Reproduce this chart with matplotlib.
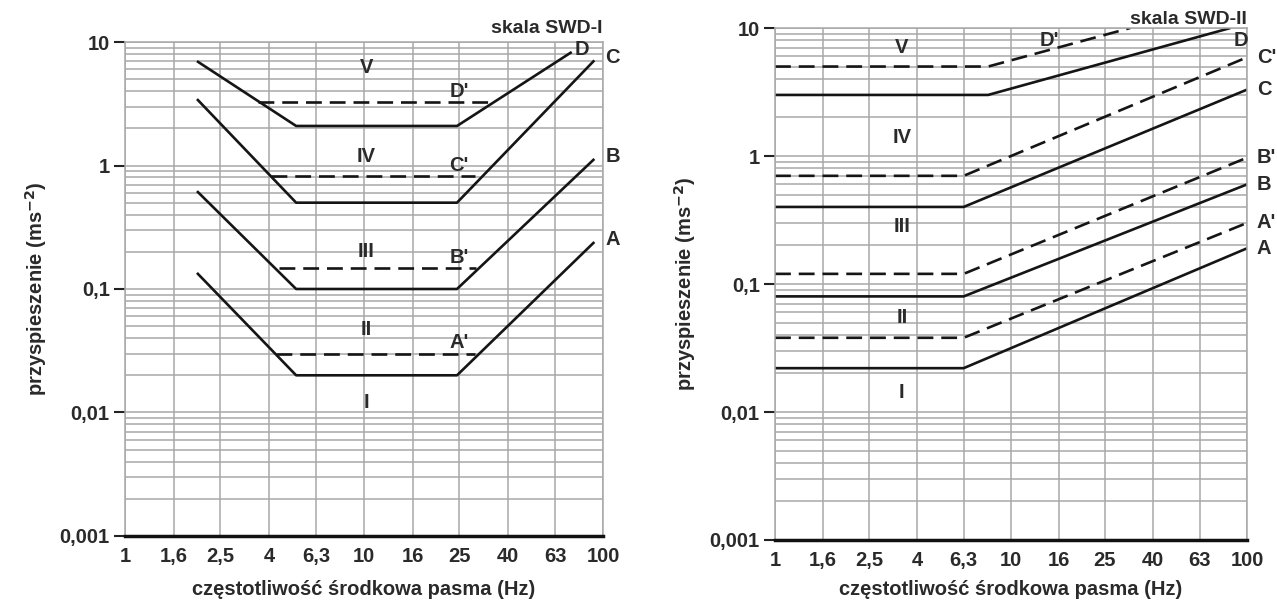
import numpy as np
import matplotlib.pyplot as plt
from matplotlib.ticker import FixedLocator, LogLocator, NullFormatter, NullLocator

plt.rcParams['font.family'] = ['Liberation Sans', 'DejaVu Sans']
plt.rcParams['font.weight'] = 'bold'
plt.rcParams['mathtext.default'] = 'bf'

TXT = '#2a2a2a'
GRID = '#a8a8a8'

# x ticks (third-octave band centres) and y ticks
x_ticks = [1, 1.6, 2.5, 4, 6.3, 10, 16, 25, 40, 63, 100]
x_labels = ['1', '1,6', '2,5', '4', '6,3', '10', '16', '25', '40', '63', '100']
y_ticks = [0.001, 0.01, 0.1, 1, 10]
y_labels = ['0,001', '0,01', '0,1', '1', '10']

# --- SWD-I (left) ---
swd1_f = [2, 5.2, 24.5, 92]
swd1_A = [0.135, 0.02, 0.02, 0.24]
swd1_B = [0.62, 0.1, 0.1, 1.13]
swd1_C = [3.45, 0.5, 0.5, 7.1]
swd1_D_f = [2, 5.2, 24.5, 74]
swd1_D = [7.0, 2.09, 2.09, 8.3]
swd1_A2_f = [4.3, 29]
swd1_A2 = [0.03, 0.03]
swd1_B2_f = [4.4, 29.5]
swd1_B2 = [0.148, 0.148]
swd1_C2_f = [4.1, 29]
swd1_C2 = [0.82, 0.82]
swd1_D2_f = [3.6, 35]
swd1_D2 = [3.25, 3.25]

# --- SWD-II (right) ---
swd2_f = [1, 6.3, 100]
swd2_A = [0.022, 0.022, 0.19]
swd2_A2 = [0.038, 0.038, 0.3]
swd2_B = [0.08, 0.08, 0.6]
swd2_B2 = [0.12, 0.12, 0.97]
swd2_C = [0.4, 0.4, 3.3]
swd2_C2 = [0.7, 0.7, 5.9]
swd2_D_f = [1, 8, 85]
swd2_D = [3, 3, 10]
swd2_D2_f = [1, 8, 32]
swd2_D2 = [5, 5, 10]

roman = ['V', 'IV', 'III', 'II', 'I']
roman1_y = [6.2, 1.19, 0.2, 0.0466, 0.012]
roman2_y = [7.0, 1.4, 0.28, 0.055, 0.0143]


def style_axes(ax, xpad):
    ax.set_xscale('log')
    ax.set_yscale('log')
    ax.set_xlim(1, 100)
    ax.set_ylim(0.001, 10)
    ax.xaxis.set_major_locator(FixedLocator(x_ticks))
    ax.set_xticklabels(x_labels)
    ax.xaxis.set_minor_locator(NullLocator())
    ax.set_yticks(y_ticks)
    ax.set_yticklabels(y_labels)
    ax.yaxis.set_minor_locator(LogLocator(base=10, subs=np.arange(2, 10)))
    ax.yaxis.set_minor_formatter(NullFormatter())
    ax.grid(True, which='major', color=GRID, lw=1.1)
    ax.grid(True, which='minor', axis='y', color=GRID, lw=1.1)
    ax.tick_params(axis='x', length=0, pad=8, labelsize=14.5, labelcolor=TXT)
    ax.tick_params(axis='y', which='major', length=8, width=1.5, pad=3,
                   labelsize=14.5, labelcolor=TXT, color='#222222')
    ax.tick_params(axis='y', which='minor', length=0)
    for s in ['left', 'top', 'right']:
        ax.spines[s].set_color(GRID)
        ax.spines[s].set_linewidth(1.1)
    ax.spines['bottom'].set_color('#111111')
    ax.spines['bottom'].set_linewidth(2.5)
    ax.set_axisbelow(True)
    ax.set_ylabel('przyspieszenie (ms$^{-2}$)', fontsize=14.5, fontweight='bold',
                  color=TXT, labelpad=8)
    ax.set_xlabel('częstotliwość środkowa pasma (Hz)', fontsize=14.5,
                  fontweight='bold', color=TXT, labelpad=xpad)


solid = dict(color='#151515', lw=1.9, solid_capstyle='butt')
dash = dict(color='#151515', lw=1.9, ls=(0, (6, 3)))
lab = dict(fontsize=14.5, color=TXT, fontweight='bold')

fig = plt.figure(figsize=(12.77, 6.01), dpi=100)
ax1 = fig.add_axes([0.0979, 0.1082, 0.3743, 0.8219])
ax2 = fig.add_axes([0.6069, 0.1015, 0.3696, 0.8519])

# left panel
style_axes(ax1, 10)
ax1.plot(swd1_f, swd1_A, **solid)
ax1.plot(swd1_f, swd1_B, **solid)
ax1.plot(swd1_f, swd1_C, **solid)
ax1.plot(swd1_D_f, swd1_D, **solid)
ax1.plot(swd1_A2_f, swd1_A2, **dash)
ax1.plot(swd1_B2_f, swd1_B2, **dash)
ax1.plot(swd1_C2_f, swd1_C2, **dash)
ax1.plot(swd1_D2_f, swd1_D2, **dash)
for r, y in zip(roman, roman1_y):
    ax1.text(10.2, y, r, ha='center', va='center', **lab)
ax1.text(25, 4.0, "D'", ha='center', va='center', **lab)
ax1.text(25, 1.0, "C'", ha='center', va='center', **lab)
ax1.text(25, 0.18, "B'", ha='center', va='center', **lab)
ax1.text(25, 0.037, "A'", ha='center', va='center', **lab)
ax1.annotate('D', (swd1_D_f[-1], swd1_D[-1]), xytext=(2, 2), textcoords='offset points',
             ha='left', va='center', annotation_clip=False, **lab)
for name, vals in [('C', swd1_C), ('B', swd1_B), ('A', swd1_A)]:
    ax1.annotate(name, (swd1_f[-1], vals[-1]), xytext=(8, 2), textcoords='offset points',
                 ha='left', va='center', annotation_clip=False, **lab)
ax1.text(1.0, 1.01, 'skala SWD-I', transform=ax1.transAxes, ha='right', va='bottom',
         fontsize=14, color=TXT)

# right panel
style_axes(ax2, 7)
ax2.plot(swd2_f, swd2_A, **solid)
ax2.plot(swd2_f, swd2_B, **solid)
ax2.plot(swd2_f, swd2_C, **solid)
ax2.plot(swd2_D_f, swd2_D, **solid)
ax2.plot(swd2_f, swd2_A2, **dash)
ax2.plot(swd2_f, swd2_B2, **dash)
ax2.plot(swd2_f, swd2_C2, **dash)
ax2.plot(swd2_D2_f, swd2_D2, **dash)
for r, y in zip(roman, roman2_y):
    ax2.text(3.45, y, r, ha='center', va='center', **lab)
ax2.text(14.6, 8.0, "D'", ha='center', va='center', **lab)
ax2.text(94, 8.0, 'D', ha='center', va='center', **lab)
for name, vals in [("C'", swd2_C2), ('C', swd2_C), ("B'", swd2_B2), ('B', swd2_B),
                   ("A'", swd2_A2), ('A', swd2_A)]:
    ax2.annotate(name, (swd2_f[-1], vals[-1]), xytext=(7, 0), textcoords='offset points',
                 ha='left', va='center', annotation_clip=False, **lab)
ax2.text(1.0, 1.0, 'skala SWD-II', transform=ax2.transAxes, ha='right', va='bottom',
         fontsize=14, color=TXT)

fig.savefig('out.png', dpi=100, facecolor='white')
